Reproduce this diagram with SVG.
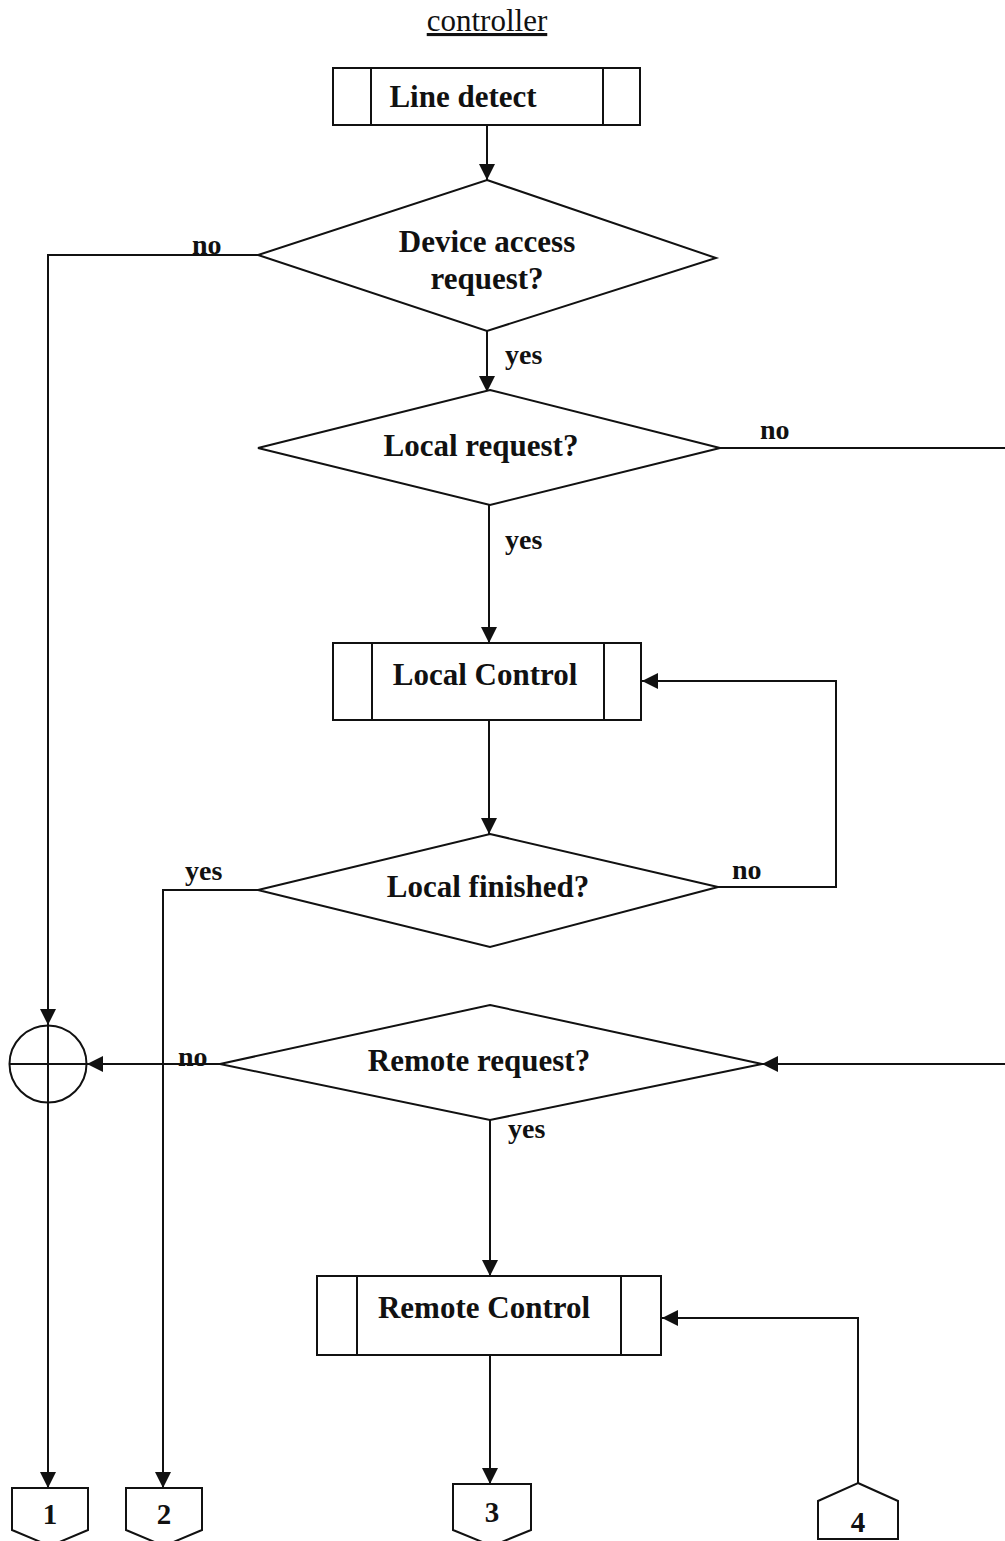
<svg xmlns="http://www.w3.org/2000/svg" width="1005" height="1541" viewBox="0 0 1005 1541">
  <style>
    .shape { fill: #fff; stroke: #111; stroke-width: 2; }
    .line { fill: none; stroke: #111; stroke-width: 2; }
    .lbl { font-family: "Liberation Serif", "Times New Roman", serif; font-weight: bold; font-size: 31px; fill: #111; text-anchor: middle; }
    .br { font-family: "Liberation Serif", "Times New Roman", serif; font-weight: bold; font-size: 28px; fill: #111; }
    .num { font-family: "Liberation Serif", "Times New Roman", serif; font-weight: bold; font-size: 29px; fill: #111; text-anchor: middle; }
    .title { font-family: "Liberation Serif", "Times New Roman", serif; font-size: 31px; fill: #111; text-anchor: middle; text-decoration: underline; }
  </style>
  <defs>
    <marker id="arrow" viewBox="0 0 16 16" refX="16" refY="8" markerWidth="16" markerHeight="16" markerUnits="userSpaceOnUse" orient="auto">
      <path d="M0,0 L16,8 L0,16 Z" fill="#111"/>
    </marker>
  </defs>
  <rect width="1005" height="1541" fill="#fff"/>

  <text class="title" x="487" y="31">controller</text>

  <g id="connectors">
    <!-- main spine -->
    <line class="line" x1="487" y1="125" x2="487" y2="180" marker-end="url(#arrow)"/>
    <line class="line" x1="487" y1="331" x2="487" y2="392" marker-end="url(#arrow)"/>
    <line class="line" x1="489" y1="505" x2="489" y2="643" marker-end="url(#arrow)"/>
    <line class="line" x1="489" y1="720" x2="489" y2="834" marker-end="url(#arrow)"/>
    <line class="line" x1="490" y1="1120" x2="490" y2="1276" marker-end="url(#arrow)"/>
    <line class="line" x1="490" y1="1355" x2="490" y2="1484" marker-end="url(#arrow)"/>
    <!-- device access: no -->
    <polyline class="line" points="258,255 48,255 48,1025" marker-end="url(#arrow)"/>
    <line class="line" x1="48" y1="1103" x2="48" y2="1488" marker-end="url(#arrow)"/>
    <!-- local request: no -->
    <line class="line" x1="720" y1="448" x2="1005" y2="448"/>
    <!-- remote request entry from right -->
    <line class="line" x1="1005" y1="1064" x2="762" y2="1064" marker-end="url(#arrow)"/>
    <!-- local finished: no, loop back -->
    <polyline class="line" points="718,887 836,887 836,681 642,681" marker-end="url(#arrow)"/>
    <!-- local finished: yes -->
    <polyline class="line" points="258,890 163,890 163,1488" marker-end="url(#arrow)"/>
    <!-- remote request: no -->
    <line class="line" x1="220" y1="1064" x2="87" y2="1064" marker-end="url(#arrow)"/>
    <!-- entry 4 back into remote control -->
    <polyline class="line" points="858,1483 858,1318 662,1318" marker-end="url(#arrow)"/>
  </g>

  <g id="line-detect">
    <rect class="shape" x="333" y="68" width="307" height="57"/>
    <line class="line" x1="371" y1="68" x2="371" y2="125"/>
    <line class="line" x1="603" y1="68" x2="603" y2="125"/>
    <text class="lbl" x="463" y="107">Line detect</text>
  </g>

  <g id="device-access">
    <polygon class="shape" points="487,180 716,258 487,331 258,255"/>
    <text class="lbl" x="487" y="252">Device access</text>
    <text class="lbl" x="487" y="289">request?</text>
  </g>

  <g id="local-request">
    <polygon class="shape" points="490,390 720,448 490,505 258,448"/>
    <text class="lbl" x="481" y="456">Local request?</text>
  </g>

  <g id="local-control">
    <rect class="shape" x="333" y="643" width="308" height="77"/>
    <line class="line" x1="372" y1="643" x2="372" y2="720"/>
    <line class="line" x1="604" y1="643" x2="604" y2="720"/>
    <text class="lbl" x="485" y="685">Local Control</text>
  </g>

  <g id="local-finished">
    <polygon class="shape" points="490,834 718,887 490,947 258,890"/>
    <text class="lbl" x="488" y="897">Local finished?</text>
  </g>

  <g id="remote-request">
    <polygon class="shape" points="490,1005 762,1064 490,1120 220,1064"/>
    <text class="lbl" x="479" y="1071">Remote request?</text>
  </g>

  <g id="remote-control">
    <rect class="shape" x="317" y="1276" width="344" height="79"/>
    <line class="line" x1="357" y1="1276" x2="357" y2="1355"/>
    <line class="line" x1="621" y1="1276" x2="621" y2="1355"/>
    <text class="lbl" x="484" y="1318">Remote Control</text>
  </g>

  <g id="merge">
    <circle class="shape" cx="48" cy="1064" r="38.5"/>
    <line class="line" x1="9.5" y1="1064" x2="86.5" y2="1064"/>
    <line class="line" x1="48" y1="1025.5" x2="48" y2="1102.5"/>
  </g>

  <g id="branch-labels">
    <text class="br" x="192" y="254">no</text>
    <text class="br" x="505" y="364">yes</text>
    <text class="br" x="760" y="439">no</text>
    <text class="br" x="505" y="549">yes</text>
    <text class="br" x="185" y="880">yes</text>
    <text class="br" x="732" y="879">no</text>
    <text class="br" x="178" y="1066">no</text>
    <text class="br" x="508" y="1138">yes</text>
  </g>

  <g id="off-page-1">
    <polygon class="shape" points="12,1488 88,1488 88,1530 50,1546 12,1530"/>
    <text class="num" x="50" y="1524">1</text>
  </g>
  <g id="off-page-2">
    <polygon class="shape" points="126,1488 202,1488 202,1530 164,1546 126,1530"/>
    <text class="num" x="164" y="1524">2</text>
  </g>
  <g id="off-page-3">
    <polygon class="shape" points="453,1484 531,1484 531,1530 492,1546 453,1530"/>
    <text class="num" x="492" y="1522">3</text>
  </g>
  <g id="off-page-4">
    <polygon class="shape" points="858,1483 898,1501 898,1539 818,1539 818,1501"/>
    <text class="num" x="858" y="1532">4</text>
  </g>
</svg>
